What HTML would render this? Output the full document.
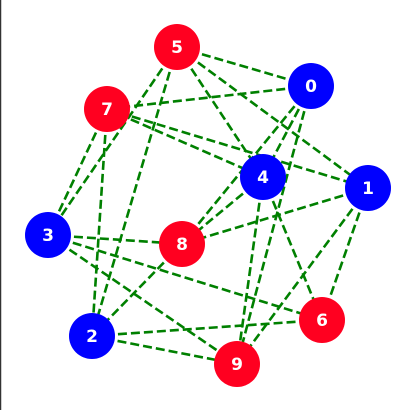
<!DOCTYPE html>
<html><head><meta charset="utf-8"><style>
html,body{margin:0;padding:0;background:#fff;width:413px;height:410px;overflow:hidden}
svg{display:block}
</style></head><body>
<svg id="chart" width="413" height="410">
<rect x="0" y="0" width="413" height="410" fill="#fff"/>
<line x1="0.5" y1="0" x2="0.5" y2="410" stroke="#333" stroke-width="1.5"/>
<g id="edges"></g><g id="nodes"></g>
</svg>
<script>
const nodeIds=[0,1,2,3,4,5,6,7,8,9];
const nodeX=[311,368,92,48,263,177,322,107,182,237];
const nodeY=[86,188,336,235,177,47,320,109,244,364];
const nodeColors=['#0000ff','#0000ff','#0000ff','#0000ff','#0000ff','#ff0020','#ff0020','#ff0020','#ff0020','#ff0020'];
const edgeFrom=[5,5,5,5,5,0,0,0,0,7,7,7,7,3,3,3,4,4,4,1,1,1,8,2,2];
const edgeTo  =[0,1,4,3,2,7,4,8,9,4,1,3,2,8,6,9,9,6,8,8,6,9,2,6,9];
const NS='http://www.w3.org/2000/svg';
const eg=document.getElementById('edges'),ng=document.getElementById('nodes');
for(let i=0;i<edgeFrom.length;i++){
  const a=edgeFrom[i],b=edgeTo[i];
  const l=document.createElementNS(NS,'line');
  l.setAttribute('x1',nodeX[a]);l.setAttribute('y1',nodeY[a]);
  l.setAttribute('x2',nodeX[b]);l.setAttribute('y2',nodeY[b]);
  l.setAttribute('stroke','#008000');l.setAttribute('stroke-width','2.6');
  l.setAttribute('stroke-dasharray','9 4');
  
  
  eg.appendChild(l);
}
for(let i=0;i<nodeIds.length;i++){
  const g=document.createElementNS(NS,'g');
  
  
  const c=document.createElementNS(NS,'circle');
  c.setAttribute('cx',nodeX[i]);c.setAttribute('cy',nodeY[i]);c.setAttribute('r',23);
  c.setAttribute('fill',nodeColors[i]);
  const t=document.createElementNS(NS,'text');
  t.setAttribute('x',nodeX[i]);t.setAttribute('y',nodeY[i]+6);
  t.setAttribute('text-anchor','middle');t.setAttribute('fill','#fff');
  t.setAttribute('font-family','"DejaVu Sans","Liberation Sans",sans-serif');
  t.setAttribute('font-weight','bold');t.setAttribute('font-size','17');
  t.textContent=nodeIds[i];
  g.appendChild(c);g.appendChild(t);ng.appendChild(g);
}
</script>
</body></html>
